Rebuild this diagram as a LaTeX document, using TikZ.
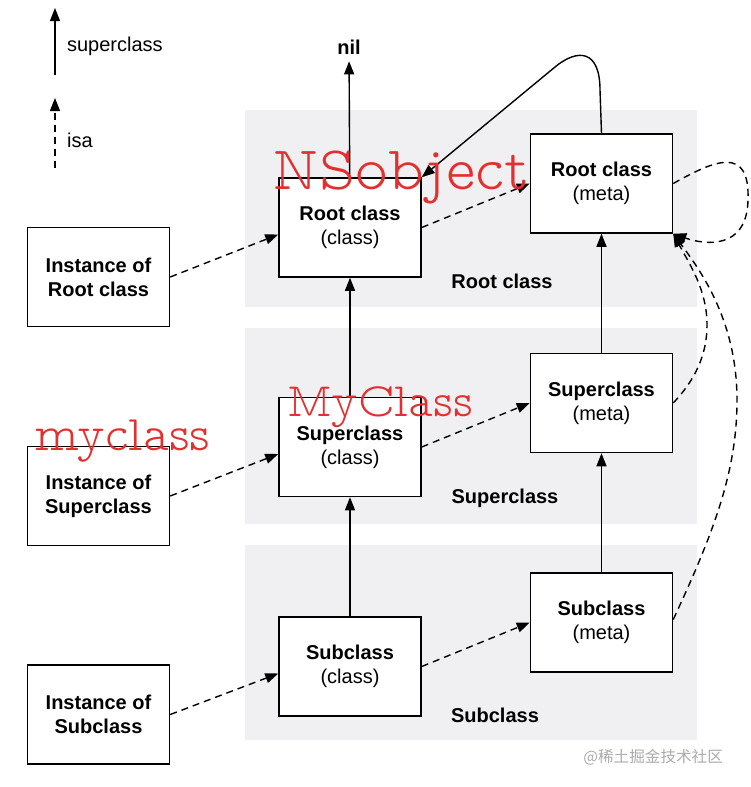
\documentclass[tikz,border=0pt]{standalone}
\usepackage{fontspec}
\setmainfont{Liberation Sans}
\newfontfamily\cjk{Noto Sans CJK SC}
\newfontfamily\hand{lmmonoproplt10-regular.otf}
\usetikzlibrary{arrows.meta, positioning}
\definecolor{band}{RGB}{240, 240, 243}
\definecolor{pen}{RGB}{226, 48, 48}
\definecolor{stamp}{RGB}{172, 172, 172}

\begin{document}
\begin{tikzpicture}[
        x=0.5pt, y=-0.5pt,
        node distance=59.5pt and 54pt,
        box/.style={rectangle, draw, line width=0.75pt, fill=white,
                    minimum width=71pt, minimum height=49.5pt, inner sep=0pt,
                    align=center, font=\fontsize{10}{12}\selectfont},
        bandtext/.style={font=\fontsize{10}{12}\selectfont\bfseries},
        arrow/.style={-{Triangle[length=6.5pt, width=5pt]}, line width=0.7pt},
        isa/.style={arrow, dash pattern=on 3.5pt off 2.5pt},
        note/.style={pen, anchor=base, font=\hand\fontsize{30}{30}\selectfont},
    ]
        \useasboundingbox (0,0) rectangle (750,787);
        \fill[white] (0,0) rectangle (750,787);

        % grey bands
        \fill[band] (245,110) rectangle (697,307);
        \fill[band] (245,328) rectangle (697,524);
        \fill[band] (245,545) rectangle (697,740);

        % legend
        \coordinate (sctail) at (55,75);
        \coordinate (schead) at (55,8);
        \coordinate (isatail) at (55,168);
        \coordinate (isahead) at (55,98);
        \draw[arrow] (sctail) -- (schead);
        \draw[isa] (isatail) -- (isahead);
        \node[anchor=west, font=\fontsize{10}{12}\selectfont] (sclegend) at (60,46) {superclass};
        \node[anchor=west, font=\fontsize{10}{12}\selectfont] (isalegend) at (60,140) {isa};

        % classes
        \node[box] (rootcls) at (350,227.5) {\textbf{Root class}\\(class)};
        \node[box, below=of rootcls] (supercls) {\textbf{Superclass}\\(class)};
        \node[box, below=of supercls] (subcls) {\textbf{Subclass}\\(class)};

        % metaclasses
        \node[box, right=of rootcls, yshift=22pt] (rootmeta) {\textbf{Root class}\\(meta)};
        \node[box, right=of supercls, yshift=22pt] (supermeta) {\textbf{Superclass}\\(meta)};
        \node[box, right=of subcls, yshift=22pt] (submeta) {\textbf{Subclass}\\(meta)};

        % instances
        \node[box, left=of rootcls, yshift=-24.75pt] (rootinst) {\textbf{Instance of}\\\textbf{Root class}};
        \node[box, left=of supercls, yshift=-24.5pt] (superinst) {\textbf{Instance of}\\\textbf{Superclass}};
        \node[box, left=of subcls, yshift=-24pt] (subinst) {\textbf{Instance of}\\\textbf{Subclass}};

        \node[bandtext] (rootband) at (502,281) {Root class};
        \node[bandtext] (superband) at (505,498) {Superclass};
        \node[bandtext] (subband) at (495,715) {Subclass};
        \node[bandtext] (nil) at (349,47) {nil};

        % superclass links
        \draw[arrow] (rootcls) -- (nil);
        \draw[arrow] (supercls) -- (rootcls);
        \draw[arrow] (subcls) -- (supercls);
        \draw[arrow] (supermeta) -- (rootmeta);
        \draw[arrow] (submeta) -- (supermeta);
        \draw[arrow] (rootmeta.north) -- (600,90)
            .. controls (600,50) and (578,48) .. (555,67) -- (rootcls.north east);

        % isa links
        \draw[isa] (rootinst.east) -- ([yshift=-3.5pt]rootcls.west);
        \draw[isa] (superinst.east) -- ([yshift=-3.5pt]supercls.west);
        \draw[isa] (subinst.east) -- ([yshift=-3.5pt]subcls.west);
        \draw[isa] (rootcls.east) -- (rootmeta.west);
        \draw[isa] (supercls.east) -- (supermeta.west);
        \draw[isa] (subcls.east) -- (submeta.west);
        \draw[isa] (rootmeta.east) .. controls (715,160) and (750,145) .. (748,200)
            .. controls (747,250) and (705,245) .. (rootmeta.south east);
        \draw[isa] (supermeta.east) .. controls (695,380) and (707,355) .. (707,325)
            .. controls (707,290) and (690,265) .. (rootmeta.south east);
        \draw[isa] ([yshift=1.5pt]submeta.east) .. controls (715,530) and (737,470) .. (737,400)
            .. controls (737,320) and (700,270) .. (rootmeta.south east);

        % handwritten notes
        \node[note, font=\hand\fontsize{31}{31}\selectfont] (nsobject) at (401,189) {NSobject};
        \node[note, font=\hand\fontsize{24}{24}\selectfont] (myclassnote) at (380,416) {MyClass};
        \node[note, font=\hand\fontsize{25}{25}\selectfont] (instnote) at (123,450) {myclass};

        \node[stamp, anchor=east, font=\cjk\fontsize{7.8}{9}\selectfont] (watermark) at (730,757) {@稀土掘金技术社区};
    \end{tikzpicture}
\end{document}
